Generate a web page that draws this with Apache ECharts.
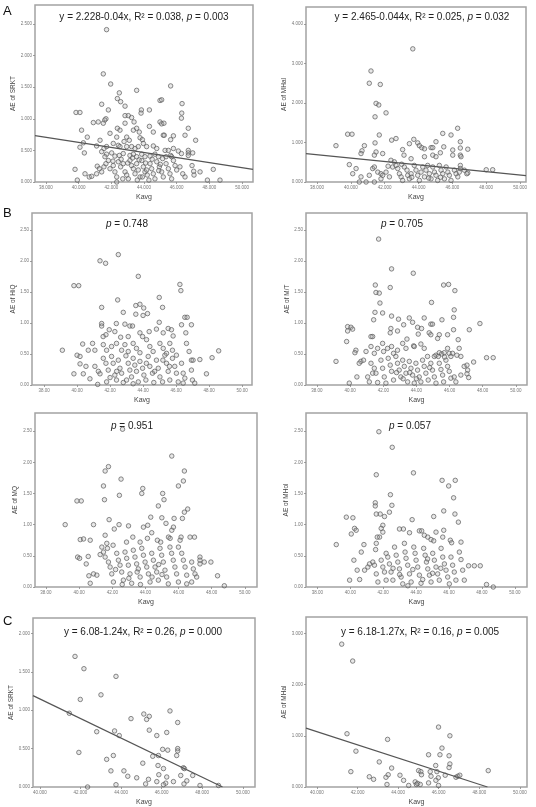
<!DOCTYPE html>
<html>
<head>
<meta charset="utf-8">
<script src="https://cdn.jsdelivr.net/npm/echarts@6/dist/echarts.min.js"></script>
<style>
  html, body { margin: 0; padding: 0; background: #fff; }
  #chart { width: 536px; height: 807px; }
</style>
</head>
<body>
<div id="chart"></div>
<script>
// tick values
const ticksX38 = [38, 40, 42, 44, 46, 48, 50];
const ticksX40 = [40, 42, 44, 46, 48, 50];
const ticksY25 = [0, 0.5, 1, 1.5, 2, 2.5];
const ticksY4 = [0, 1, 2, 3, 4];
const ticksY2 = [0, 0.5, 1, 1.5, 2];
const ticksY3 = [0, 1, 2, 3];

// A: AE of SRKT vs Kavg
const srktA = [
  [41.71,2.41],[41.51,1.71],[41.96,1.55],[43.55,1.45],[45.63,1.52],[42.49,1.41],[42.37,1.32],[42.57,1.27],
  [41.41,1.23],[42.84,1.20],[43.84,1.14],[43.82,1.09],[44.33,1.14],[44.98,1.29],[45.08,1.30],[46.33,1.24],
  [46.31,1.09],[46.29,1.01],[39.84,1.10],[40.08,1.10],[41.82,1.14],[42.84,1.05],[43.04,1.05],[43.24,1.02],
  [43.39,0.95],[41.67,1.00],[41.60,0.98],[41.20,0.95],[40.90,0.94],[41.51,0.93],[42.84,0.93],[44.98,0.95],
  [45.08,0.92],[45.22,0.93],[44.33,0.88],[46.71,0.85],[40.18,0.82],[42.37,0.85],[42.53,0.82],[43.35,0.82],
  [43.55,0.85],[43.71,0.79],[44.57,0.79],[41.92,0.77],[40.53,0.71],[47.16,0.66],[46.51,0.74],[45.63,0.67],
  [45.80,0.73],[45.18,0.74],[45.24,0.74],[43.76,0.70],[43.90,0.67],[41.31,0.66],[42.33,0.71],[42.94,0.71],
  [43.10,0.66],[40.29,0.62],[40.08,0.55],[40.35,0.46],[41.10,0.57],[41.71,0.56],[41.55,0.53],[42.12,0.61],
  [42.43,0.58],[42.53,0.56],[42.78,0.64],[42.94,0.56],[43.24,0.56],[43.45,0.53],[43.65,0.56],[43.96,0.61],
  [44.16,0.56],[44.57,0.57],[44.78,0.53],[45.29,0.50],[45.49,0.50],[45.80,0.53],[46.10,0.49],[46.71,0.50],
  [46.71,0.46],[46.71,0.42],[46.98,0.46],[46.29,0.45],[41.41,0.48],[41.71,0.44],[42.02,0.46],[42.22,0.41],
  [42.49,0.42],[42.73,0.45],[43.14,0.42],[43.35,0.44],[43.55,0.40],[43.86,0.44],[44.06,0.40],[44.37,0.41],
  [44.67,0.44],[44.88,0.40],[45.14,0.37],[45.35,0.40],[45.63,0.42],[45.69,0.40],[39.78,0.20],[39.92,0.03],
  [40.39,0.13],[40.65,0.08],[40.80,0.09],[41.10,0.13],[41.14,0.25],[41.27,0.21],[41.41,0.16],[41.55,0.24],
  [41.67,0.29],[41.82,0.34],[41.61,0.40],[41.92,0.21],[42.12,0.26],[42.22,0.16],[42.33,0.08],[42.33,0.00],
  [42.43,0.32],[42.57,0.24],[42.73,0.29],[42.84,0.16],[42.94,0.11],[43.04,0.05],[43.14,0.34],[43.24,0.26],
  [43.35,0.21],[43.45,0.13],[43.55,0.29],[43.65,0.19],[43.76,0.08],[43.59,0.03],[43.86,0.34],[43.96,0.24],
  [44.06,0.16],[44.16,0.19],[44.20,0.11],[44.37,0.29],[44.47,0.21],[44.57,0.13],[44.67,0.05],[44.78,0.32],
  [44.94,0.24],[45.08,0.16],[45.18,0.08],[45.35,0.29],[45.49,0.21],[45.59,0.13],[45.69,0.05],[45.80,0.34],
  [45.90,0.26],[46.00,0.19],[46.20,0.24],[46.37,0.13],[46.51,0.08],[46.94,0.26],[47.04,0.17],[47.06,0.11],
  [47.43,0.16],[48.24,0.20],[47.88,0.03],[48.65,0.03],[43.30,0.38],[43.70,0.35],[44.10,0.30],[44.50,0.36],
  [44.90,0.18],[42.60,0.36],[42.10,0.33],[43.90,0.08],[44.30,0.03],[45.00,0.28],[43.00,0.30],[42.70,0.05]
];
const lineSrktA = [[37.33,0.735],[50.67,0.20]];

// A: AE of MHal vs Kavg
const mhalA = [
  [43.66,3.37],[41.19,2.81],[41.09,2.50],[41.74,2.47],[41.49,1.99],[41.65,1.95],[41.43,1.65],[42.08,1.75],
  [41.68,1.19],[39.81,1.21],[40.07,1.21],[39.12,0.92],[40.80,0.92],[40.66,0.79],[40.60,0.72],[41.43,0.99],
  [41.49,0.76],[41.39,0.68],[41.88,0.72],[42.41,1.06],[42.67,1.10],[43.72,1.08],[43.95,0.99],[44.05,0.92],
  [44.19,0.87],[44.35,0.84],[43.46,0.97],[43.06,0.82],[44.74,0.87],[44.84,0.87],[45.03,1.02],[45.43,1.23],
  [46.31,1.36],[45.92,1.19],[46.47,1.02],[46.91,0.83],[46.02,0.81],[45.49,0.89],[45.29,0.74],[44.84,0.68],
  [45.03,0.64],[44.35,0.64],[43.14,0.68],[42.37,0.55],[42.57,0.51],[43.56,0.59],[46.02,0.68],[46.47,0.86],
  [46.47,0.68],[46.51,0.64],[46.47,0.42],[46.47,0.34],[48.00,0.31],[48.38,0.31],[39.91,0.44],[40.11,0.21],
  [40.31,0.34],[40.50,0.00],[40.90,0.00],[40.60,0.13],[41.09,0.17],[41.29,0.34],[41.39,0.38],[41.39,0.00],
  [41.59,0.25],[41.78,0.21],[41.88,0.17],[41.78,0.08],[42.08,0.25],[42.28,0.13],[42.47,0.38],[42.67,0.42],
  [42.77,0.34],[42.87,0.21],[42.97,0.13],[43.06,0.04],[43.16,0.38],[43.32,0.30],[43.36,0.17],[43.46,0.08],
  [43.56,0.21],[43.75,0.42],[43.85,0.30],[43.95,0.17],[44.05,0.04],[44.15,0.25],[44.25,0.38],[44.35,0.13],
  [44.44,0.30],[44.54,0.42],[44.64,0.21],[44.74,0.08],[44.84,0.38],[44.94,0.25],[45.03,0.17],[45.13,0.04],
  [45.23,0.42],[45.33,0.30],[45.43,0.21],[45.53,0.08],[45.63,0.38],[45.73,0.25],[45.82,0.17],[45.92,0.04],
  [46.12,0.30],[46.22,0.21],[46.32,0.13],[46.41,0.25],[46.91,0.23],[46.85,0.21],[46.71,0.30],[43.00,0.45],
  [43.60,0.12],[44.60,0.10],[42.20,0.40],[45.30,0.12]
];
const lineMhalA = [[37.35,0.72],[50.35,0.16]];

// B: AE of HiQ vs Kavg
const hiqB = [
  [42.50,2.10],[41.39,2.00],[41.73,1.96],[43.71,1.75],[39.81,1.60],[40.10,1.60],[46.23,1.62],[46.29,1.52],
  [44.98,1.41],[42.46,1.37],[41.49,1.25],[45.18,1.25],[43.81,1.30],[43.56,1.28],[44.04,1.24],[44.00,1.12],
  [42.80,1.17],[43.56,1.14],[44.27,1.15],[46.53,1.09],[46.67,1.09],[41.49,0.99],[41.49,0.95],[42.38,0.99],
  [42.90,0.98],[43.20,0.95],[43.36,0.95],[44.98,1.01],[45.52,0.91],[45.72,0.89],[46.33,0.97],[46.93,0.97],
  [41.95,0.89],[41.75,0.81],[41.58,0.78],[42.29,0.86],[43.10,0.78],[42.64,0.77],[43.81,0.84],[43.97,0.78],
  [44.37,0.86],[44.81,0.90],[45.22,0.84],[45.82,0.79],[46.59,0.84],[46.63,0.67],[40.34,0.66],[40.94,0.67],
  [39.11,0.56],[40.00,0.48],[40.18,0.46],[40.68,0.56],[41.08,0.56],[41.59,0.65],[41.79,0.56],[42.09,0.62],
  [42.39,0.67],[42.70,0.56],[42.90,0.65],[43.10,0.54],[43.40,0.67],[43.60,0.59],[43.81,0.52],[44.21,0.73],
  [44.41,0.62],[44.61,0.54],[45.02,0.67],[45.22,0.59],[45.42,0.51],[45.62,0.67],[45.78,0.56],[46.02,0.48],
  [46.79,0.54],[46.93,0.40],[47.03,0.40],[47.44,0.41],[48.18,0.44],[48.58,0.55],[47.84,0.18],[39.81,0.18],
  [40.18,0.34],[40.38,0.18],[40.54,0.30],[40.78,0.10],[41.08,0.30],[41.29,0.22],[41.39,0.18],[41.59,0.43],
  [41.75,0.35],[41.89,0.24],[41.79,0.05],[41.25,0.01],[42.09,0.46],[42.19,0.35],[42.29,0.16],[42.39,0.08],
  [42.50,0.40],[42.60,0.27],[42.70,0.19],[42.80,0.04],[42.96,0.47],[43.10,0.35],[43.20,0.24],[43.30,0.13],
  [43.40,0.43],[43.50,0.32],[43.60,0.22],[43.71,0.05],[43.81,0.38],[43.97,0.27],[44.05,0.16],[44.17,0.08],
  [44.31,0.46],[44.41,0.30],[44.57,0.19],[44.65,0.04],[44.81,0.40],[44.92,0.27],[45.02,0.13],[45.18,0.05],
  [45.32,0.48],[45.42,0.35],[45.52,0.22],[45.62,0.08],[45.78,0.43],[45.92,0.30],[46.02,0.19],[46.13,0.05],
  [46.33,0.35],[46.43,0.19],[46.53,0.11],[46.43,0.03],[46.93,0.24],[46.99,0.08],[47.13,0.03],[42.00,0.12],
  [43.00,0.08],[44.20,0.35],[44.70,0.22],[45.60,0.30],[42.40,0.22],[43.40,0.02],[45.20,0.40]
];

// B: AE of M/T vs Kavg
const mtB = [
  [41.72,2.35],[42.50,1.87],[43.81,1.80],[41.52,1.61],[41.56,1.49],[41.76,1.48],[42.42,1.57],[45.64,1.61],
  [45.94,1.62],[46.32,1.52],[44.91,1.33],[41.80,1.32],[41.50,1.17],[41.96,1.16],[42.50,1.11],[46.28,1.21],
  [41.42,1.05],[42.92,1.06],[43.57,1.08],[44.47,1.08],[45.54,1.05],[46.24,1.09],[39.85,0.94],[40.05,0.93],
  [40.15,0.90],[39.85,0.87],[39.79,0.70],[43.23,0.97],[43.77,1.01],[44.07,0.93],[44.31,0.91],[44.87,0.98],
  [44.97,0.98],[42.46,0.91],[42.42,0.84],[47.83,0.99],[47.19,0.89],[46.24,0.89],[45.88,0.81],[45.38,0.81],
  [45.28,0.75],[44.77,0.84],[44.87,0.81],[44.11,0.82],[42.86,0.87],[43.43,0.74],[41.36,0.78],[41.26,0.78],
  [46.52,0.73],[40.96,0.54],[40.35,0.56],[40.29,0.52],[40.65,0.38],[40.55,0.35],[40.81,0.40],[39.15,0.38],
  [40.41,0.13],[39.95,0.03],[41.26,0.62],[41.46,0.51],[41.66,0.59],[41.96,0.67],[42.02,0.54],[42.26,0.59],
  [42.50,0.62],[42.62,0.51],[42.86,0.56],[43.17,0.67],[43.37,0.59],[43.83,0.63],[43.87,0.62],[44.27,0.66],
  [44.47,0.59],[44.67,0.46],[45.08,0.46],[45.18,0.48],[45.38,0.52],[45.52,0.50],[45.68,0.52],[45.88,0.59],
  [45.98,0.51],[46.18,0.51],[46.08,0.46],[46.58,0.59],[46.68,0.46],[46.44,0.48],[48.23,0.44],[48.63,0.44],
  [47.45,0.37],[46.88,0.30],[47.05,0.32],[47.09,0.24],[47.05,0.18],[47.15,0.12],[46.68,0.16],[41.06,0.13],
  [41.16,0.05],[41.36,0.19],[41.26,0.35],[41.46,0.27],[41.56,0.19],[41.66,0.04],[41.86,0.40],[41.96,0.27],
  [42.06,0.13],[42.16,0.03],[42.30,0.43],[42.42,0.32],[42.50,0.22],[42.62,0.08],[42.76,0.46],[42.86,0.35],
  [42.96,0.24],[43.06,0.13],[43.17,0.40],[43.27,0.30],[43.37,0.19],[43.47,0.05],[43.57,0.38],[43.67,0.27],
  [43.77,0.16],[43.87,0.03],[43.97,0.35],[44.07,0.24],[44.17,0.13],[44.27,0.05],[44.37,0.40],[44.47,0.30],
  [44.57,0.19],[44.71,0.08],[44.87,0.35],[44.97,0.24],[45.08,0.13],[45.18,0.03],[45.32,0.46],[45.38,0.35],
  [45.48,0.25],[45.58,0.16],[45.64,0.05],[45.78,0.40],[45.88,0.30],[45.98,0.22],[46.08,0.11],[46.28,0.13],
  [46.38,0.05],[43.60,0.20],[44.00,0.10],[44.80,0.28],[43.20,0.10],[42.80,0.20],[45.70,0.45]
];

// B: AE of MQ vs Kavg
const mqB = [
  [42.62,2.53],[45.59,2.10],[41.77,1.93],[41.57,1.86],[42.53,1.73],[46.35,1.86],[46.29,1.70],[45.99,1.62],
  [41.47,1.62],[43.84,1.58],[43.78,1.50],[45.04,1.50],[45.12,1.40],[41.53,1.40],[42.43,1.47],[39.87,1.38],
  [40.13,1.38],[44.78,1.30],[46.55,1.25],[46.35,1.20],[44.32,1.12],[44.99,1.11],[46.23,1.10],[45.73,1.10],
  [39.16,1.00],[40.87,1.00],[41.81,1.08],[42.41,1.00],[42.98,0.98],[42.12,0.93],[43.88,0.96],[44.14,0.99],
  [44.38,0.87],[45.24,1.02],[45.59,0.91],[45.69,0.96],[45.39,0.80],[45.49,0.78],[46.15,0.80],[46.69,0.80],
  [46.96,0.80],[40.07,0.76],[40.27,0.77],[40.67,0.75],[41.57,0.83],[41.67,0.70],[41.71,0.62],[42.05,0.67],
  [42.86,0.72],[43.24,0.80],[43.68,0.72],[44.12,0.78],[44.72,0.75],[44.92,0.72],[46.09,0.75],[45.99,0.64],
  [39.91,0.48],[40.03,0.46],[40.43,0.37],[40.55,0.49],[40.59,0.18],[40.67,0.06],[41.27,0.52],[41.37,0.64],
  [41.47,0.56],[40.87,0.21],[41.07,0.19],[41.57,0.48],[41.77,0.40],[41.87,0.32],[41.97,0.21],[42.07,0.08],
  [42.27,0.54],[42.37,0.43],[42.47,0.35],[42.57,0.24],[42.67,0.11],[42.77,0.56],[42.87,0.46],[42.97,0.35],
  [43.07,0.21],[43.17,0.06],[43.27,0.59],[43.37,0.48],[43.47,0.37],[43.57,0.29],[43.68,0.16],[43.78,0.62],
  [43.88,0.51],[43.98,0.40],[44.08,0.32],[44.18,0.21],[44.28,0.08],[44.38,0.54],[44.48,0.43],[44.58,0.32],
  [44.68,0.24],[44.78,0.11],[44.88,0.62],[44.98,0.51],[45.08,0.40],[45.18,0.27],[45.28,0.16],[45.38,0.05],
  [45.48,0.64],[45.58,0.54],[45.68,0.43],[45.78,0.32],[45.88,0.21],[45.99,0.08],[46.19,0.54],[46.29,0.43],
  [46.39,0.32],[46.49,0.19],[46.79,0.40],[46.89,0.29],[46.99,0.21],[47.09,0.16],[47.29,0.48],[47.29,0.43],
  [47.29,0.37],[47.55,0.40],[47.95,0.40],[48.35,0.18],[48.76,0.02],[46.79,0.08],[46.49,0.05],[42.20,0.28],
  [43.00,0.14],[43.70,0.04],[44.40,0.16],[45.00,0.20],[43.50,0.24],[42.60,0.04],[44.80,0.36]
];

// B: AE of MHol vs Kavg
const mholB = [
  [41.74,2.49],[42.55,2.24],[43.84,1.83],[41.58,1.80],[45.58,1.71],[46.38,1.71],[45.98,1.62],[46.28,1.43],
  [42.44,1.48],[42.53,1.31],[41.52,1.35],[41.52,1.30],[41.58,1.17],[41.82,1.17],[42.08,1.13],[42.38,1.20],
  [45.07,1.13],[45.68,1.22],[46.36,1.17],[46.57,1.04],[39.76,1.12],[40.16,1.11],[40.26,0.94],[40.36,0.91],
  [40.06,0.85],[39.15,0.68],[40.83,0.68],[41.98,0.99],[41.88,0.94],[41.98,0.88],[41.78,0.80],[41.64,0.80],
  [42.99,0.93],[43.23,0.93],[43.76,1.08],[43.60,0.87],[44.20,0.90],[44.34,0.90],[44.50,0.83],[44.71,0.80],
  [44.91,0.76],[45.07,0.74],[45.21,0.88],[45.68,0.91],[46.08,0.75],[46.16,0.71],[46.73,0.72],[45.62,0.80],
  [40.22,0.43],[40.42,0.27],[39.96,0.11],[40.57,0.12],[40.67,0.56],[40.87,0.27],[41.07,0.32],[41.17,0.37],
  [41.37,0.40],[41.47,0.35],[41.58,0.21],[41.68,0.08],[41.54,0.60],[41.58,0.70],[41.88,0.43],[41.98,0.32],
  [42.08,0.24],[42.18,0.11],[42.18,0.54],[42.28,0.48],[42.38,0.37],[42.48,0.24],[42.59,0.11],[42.69,0.64],
  [42.79,0.51],[42.89,0.40],[42.99,0.29],[43.09,0.16],[43.19,0.05],[43.29,0.70],[43.33,0.56],[43.39,0.46],
  [43.49,0.35],[43.60,0.21],[43.70,0.08],[43.86,0.64],[43.94,0.54],[44.00,0.43],[44.10,0.32],[44.20,0.19],
  [44.30,0.06],[44.46,0.62],[44.55,0.51],[44.63,0.40],[44.71,0.29],[44.81,0.19],[44.91,0.08],[45.01,0.54],
  [45.11,0.43],[45.21,0.32],[45.31,0.21],[45.41,0.11],[45.52,0.62],[45.62,0.48],[45.72,0.37],[45.82,0.27],
  [45.92,0.16],[46.02,0.05],[46.12,0.48],[46.22,0.35],[46.32,0.24],[46.42,0.11],[46.63,0.56],[46.73,0.44],
  [46.83,0.27],[46.93,0.11],[47.19,0.34],[47.54,0.34],[47.90,0.34],[48.28,0.04],[48.69,0.00],[43.00,0.20],
  [43.80,0.28],[44.40,0.12],[45.00,0.22],[42.60,0.30],[43.50,0.02],[44.70,0.45],[45.50,0.30]
];

// C: AE of SRKT vs Kavg
const srktC = [
  [41.73,1.70],[42.17,1.54],[43.75,1.44],[43.01,1.20],[41.99,1.14],[41.45,0.96],[45.12,0.95],[45.39,0.92],
  [45.26,0.88],[44.49,0.89],[46.41,0.99],[46.79,0.84],[46.25,0.71],[45.39,0.74],[42.80,0.72],[43.68,0.73],
  [43.91,0.67],[45.76,0.67],[41.92,0.45],[46.05,0.49],[46.30,0.48],[46.79,0.50],[46.79,0.47],[46.74,0.41],
  [43.62,0.41],[43.29,0.36],[45.56,0.40],[45.84,0.41],[45.07,0.31],[45.82,0.28],[47.07,0.25],[47.12,0.24],
  [46.09,0.24],[43.50,0.21],[44.14,0.21],[44.33,0.14],[44.77,0.12],[45.86,0.16],[46.25,0.13],[46.94,0.15],
  [47.53,0.15],[47.24,0.08],[45.35,0.10],[45.21,0.04],[45.76,0.07],[46.20,0.05],[46.58,0.07],[47.10,0.04],
  [47.89,0.02],[48.80,0.02],[43.75,0.03],[42.35,0.00],[46.09,0.03]
];
const lineSrktC = [[39.66,1.19],[49.0,0]];

// C: AE of MHal vs Kavg
const mhalC = [
  [41.22,2.79],[41.76,2.46],[45.99,1.17],[41.48,1.04],[46.55,1.00],[43.48,0.93],[41.92,0.70],[46.16,0.76],
  [45.50,0.63],[46.06,0.63],[46.51,0.61],[43.07,0.49],[46.55,0.45],[46.51,0.38],[45.85,0.42],[43.68,0.37],
  [41.67,0.30],[42.58,0.20],[42.79,0.15],[43.40,0.19],[43.51,0.24],[44.09,0.23],[44.27,0.13],[45.01,0.32],
  [45.12,0.30],[45.15,0.24],[45.58,0.30],[45.62,0.21],[45.91,0.30],[45.98,0.18],[46.32,0.23],[46.85,0.19],
  [46.94,0.21],[47.04,0.23],[48.44,0.32],[43.45,0.05],[44.52,0.03],[44.84,0.10],[44.90,0.05],[44.96,0.07],
  [45.09,0.05],[45.50,0.08],[45.86,0.13],[45.99,0.03]
];
const lineMhalC = [[39.46,1.15],[48.4,0]];

const FONT = '"Liberation Sans", Arial, sans-serif';

const panels = [
  { data: srktA, line: lineSrktA, box: [35, 5, 218, 177], x: [37.33, 50.67], y: [0, 2.8], xt: ticksX38, yt: ticksY25, xd: 3, yd: 3,
    yname: 'AE of SRKT', ygap: 18, pre: 'y = 2.228-0.04x, R² = 0.038, ', post: ' = 0.003', tx: 144, ty: 17 },
  { data: mhalA, line: lineMhalA, box: [306, 7, 220, 175], x: [37.35, 50.35], y: [0, 4.43], xt: ticksX38, yt: ticksY4, xd: 3, yd: 3,
    yname: 'AE of MHal', ygap: 14, pre: 'y = 2.465-0.044x, R² = 0.025, ', post: ' = 0.032', tx: 422, ty: 17 },
  { data: hiqB, line: null, box: [32, 213, 220, 172], x: [37.27, 50.6], y: [0, 2.77], xt: ticksX38, yt: ticksY25, xd: 2, yd: 2,
    yname: 'AE of HiQ', ygap: 15, pre: '', post: ' = 0.748', tx: 127, ty: 224 },
  { data: mtB, line: null, box: [306, 213, 221, 172], x: [37.34, 50.67], y: [0, 2.77], xt: ticksX38, yt: ticksY25, xd: 2, yd: 2,
    yname: 'AE of M/T', ygap: 15, pre: '', post: ' = 0.705', tx: 402, ty: 224 },
  { data: mqB, line: null, box: [35, 413, 222, 174], x: [37.34, 50.73], y: [0, 2.79], xt: ticksX38, yt: ticksY25, xd: 2, yd: 2,
    yname: 'AE of MQ', ygap: 16, pre: '', post: ' = 0.951', tx: 132, ty: 426 },
  { data: mholB, line: null, box: [306, 413, 221, 174], x: [37.31, 50.74], y: [0, 2.79], xt: ticksX38, yt: ticksY25, xd: 2, yd: 2,
    yname: 'AE of MHol', ygap: 16, pre: '', post: ' = 0.057', tx: 410, ty: 426 },
  { data: srktC, line: lineSrktC, box: [33, 618, 222, 175], x: [39.66, 50.6], y: [0, 2.2], xt: ticksX40, yt: ticksY2, xd: 3, yd: 3,
    yname: 'AE of SRKT', ygap: 16, pre: 'y = 6.08-1.24x, R² = 0.26, ', post: ' = 0.000', tx: 143, ty: 632 },
  { data: mhalC, line: lineMhalC, box: [306, 617, 221, 176], x: [39.46, 50.35], y: [0, 3.32], xt: ticksX40, yt: ticksY3, xd: 3, yd: 3,
    yname: 'AE of MHal', ygap: 16, pre: 'y = 6.18-1.27x, R² = 0.16, ', post: ' = 0.005', tx: 420, ty: 632 }
];

const grid = [], xAxis = [], yAxis = [], series = [], graphic = [];

panels.forEach((p, i) => {
  grid.push({
    left: p.box[0], top: p.box[1], width: p.box[2], height: p.box[3],
    show: true, borderColor: '#a3a3a3', borderWidth: 1.5, backgroundColor: 'transparent'
  });
  xAxis.push({
    type: 'value', gridIndex: i, min: p.x[0], max: p.x[1],
    name: 'Kavg', nameLocation: 'middle', nameGap: 12,
    nameTextStyle: { fontFamily: FONT, fontSize: 7, color: '#444' },
    axisLine: { show: false },
    splitLine: { show: false },
    axisTick: { show: true, length: 2, lineStyle: { color: '#888', width: 0.8 }, customValues: p.xt },
    axisLabel: { fontFamily: FONT, fontSize: 4.5, color: '#777', margin: 3, customValues: p.xt,
      formatter: v => v.toFixed(p.xd) }
  });
  yAxis.push({
    type: 'value', gridIndex: i, min: p.y[0], max: p.y[1],
    name: p.yname, nameLocation: 'middle', nameGap: p.ygap, nameRotate: 90,
    nameTextStyle: { fontFamily: FONT, fontSize: 6.5, color: '#444' },
    axisLine: { show: false },
    splitLine: { show: false },
    axisTick: { show: true, length: 2, lineStyle: { color: '#888', width: 0.8 }, customValues: p.yt },
    axisLabel: { fontFamily: FONT, fontSize: 4.5, color: '#777', margin: 3, customValues: p.yt,
      formatter: v => v.toFixed(p.yd) }
  });
  series.push({
    type: 'scatter', xAxisIndex: i, yAxisIndex: i, data: p.data,
    symbol: 'circle', symbolSize: 4.5,
    itemStyle: { color: 'rgba(170,170,170,0.35)', borderColor: '#5c5c5c', borderWidth: 0.9 }
  });
  if (p.line) {
    series.push({
      type: 'line', xAxisIndex: i, yAxisIndex: i, data: p.line,
      symbol: 'none', lineStyle: { color: '#555', width: 1.2 }
    });
  }
  graphic.push({
    type: 'text', x: p.tx, y: p.ty,
    style: {
      text: (p.pre ? '{n|' + p.pre + '}' : '') + '{i|p}{n|' + p.post + '}',
      textAlign: 'center', textVerticalAlign: 'middle',
      rich: {
        n: { fontFamily: FONT, fontSize: 10, fill: '#222' },
        i: { fontFamily: FONT, fontSize: 10, fontStyle: 'italic', fill: '#222' }
      }
    }
  });
});

// panel letters
[['A', 3, 11], ['B', 3, 213], ['C', 3, 621]].forEach(l => {
  graphic.push({
    type: 'text', x: l[1], y: l[2],
    style: { text: l[0], fontFamily: FONT, fontSize: 13, fill: '#111', textVerticalAlign: 'middle' }
  });
});

const chart = echarts.init(document.getElementById('chart'));
chart.setOption({
  animation: false,
  backgroundColor: '#fff',
  grid: grid,
  xAxis: xAxis,
  yAxis: yAxis,
  series: series,
  graphic: graphic
});
</script>
</body>
</html>
